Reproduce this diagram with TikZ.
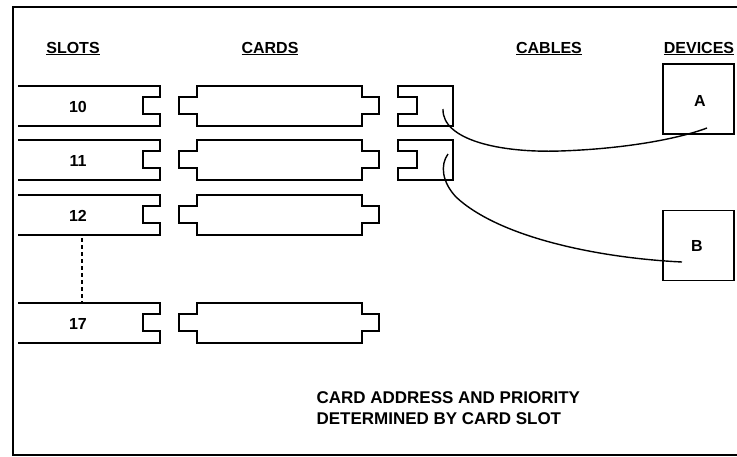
\documentclass[tikz,border=0pt]{standalone}
\usepackage{fontspec}
\setmainfont{Liberation Sans}
\usepackage{tikz}
\usetikzlibrary{positioning,calc}

\begin{document}
\begin{tikzpicture}[
  x=1pt, y=-1pt,
  every node/.style={font=\bfseries\fontsize{16}{19}\selectfont},
  part/.style={line width=1.9pt, line join=miter},
  frame/.style={line width=2.4pt},
  heading/.style={anchor=base},
  device/.style={draw, line width=1.9pt, minimum width=71pt, minimum height=70pt, inner sep=0pt},
  cable/.style={line width=1.4pt},
]
  \useasboundingbox (0,0) rectangle (737,456);
  % frame (open on the right)
  \draw[frame] (737,7) -- (13,7) -- (13,455) -- (737,455);

  % column headings
  \node[heading] (hslots)  at (73,53)  {\underline{SLOTS}};
  \node[heading] (hcards)  at (270,53) {\underline{CARDS}};
  \node[heading] (hcables) at (549,53) {\underline{CABLES}};
  \node[heading] (hdevs)   at (699,53) {\underline{DEVICES}};

  % slots and cards
  \foreach \t/\n in {86/10,140/11,195/12,303/17}{
    \draw[part] (18,\t) -- (160,\t) -- (160,\t+11) -- (143,\t+11) -- (143,\t+28)
      -- (160,\t+28) -- (160,\t+40) -- (18,\t+40);
    \node (slot\n) at (78,\t+21) {\n};
    \draw[part] (197,\t) -- (362,\t) -- (362,\t+11) -- (379,\t+11) -- (379,\t+28)
      -- (362,\t+28) -- (362,\t+40) -- (197,\t+40) -- (197,\t+28) -- (179,\t+28)
      -- (179,\t+11) -- (197,\t+11) -- cycle;
  }
  \coordinate (gapTop) at (82,238);
  \coordinate (gapBot) at (82,303);
  \draw[line width=1.5pt, dashed, dash pattern=on 4pt off 3pt] (gapTop) -- (gapBot);

  % cable connectors
  \foreach \t in {86,140}{
    \draw[part] (398,\t) -- (453,\t) -- (453,\t+40) -- (398,\t+40) -- (398,\t+28)
      -- (417,\t+28) -- (417,\t+11) -- (398,\t+11) -- cycle;
  }

  % devices
  \node[device] (devA) at (698.5,99) {};
  \node at (700,101) {A};
  \node[device] (devB) at (698.5,245.5) {};
  \node at (697,246) {B};

  % cables
  \coordinate (cabA) at (443,109);
  \coordinate (endA) at (707,128);
  \coordinate (cabB) at (448,154);
  \coordinate (endB) at (682,262);
  \draw[cable] (cabA) .. controls (442,140) and (500,153) .. (560,151)
    .. controls (620,149) and (675,140) .. (endA);
  \draw[cable] (cabB) .. controls (440,165) and (442,182) .. (456,197)
    .. controls (500,238) and (600,258) .. (endB);

  % note
  \node[anchor=base west, align=left, font=\bfseries\fontsize{17}{21}\selectfont] (note) at (313,424)
    {CARD ADDRESS AND PRIORITY\\DETERMINED BY CARD SLOT};
\end{tikzpicture}
\end{document}
